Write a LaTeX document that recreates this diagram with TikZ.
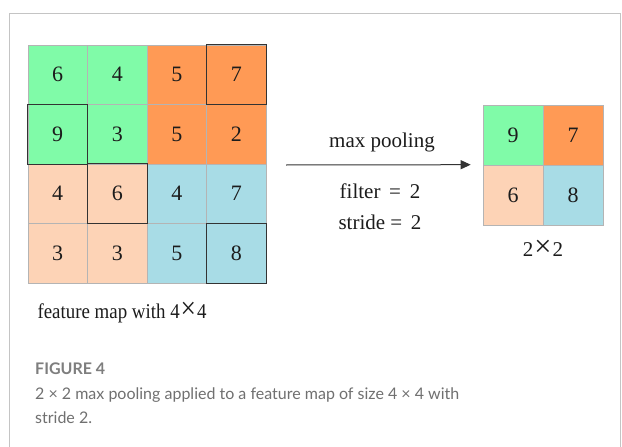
\documentclass[tikz,border=0pt]{standalone}
\usepackage{fontspec}
\setmainfont{Liberation Serif}
\newfontfamily\capfont{Lato}
\usetikzlibrary{arrows.meta}
\definecolor{cgreen}{HTML}{80FBA8}
\definecolor{corange}{HTML}{FF9A55}
\definecolor{cpeach}{HTML}{FDD3B6}
\definecolor{cblue}{HTML}{A8DCE6}
\definecolor{gridgray}{HTML}{B4B4B4}
\definecolor{framegray}{HTML}{C4C4C4}
\definecolor{capgray}{HTML}{707070}
\definecolor{ink}{HTML}{1C1C1C}
\tikzset{
  cell/.style={rectangle, draw=gridgray, line width=0.6pt, minimum size=59.5pt,
    inner sep=0pt, font=\fontsize{22}{24}\selectfont, text=ink},
  ocell/.style={cell, minimum size=60pt},
  hl/.style={draw=black!80, line width=1pt},
  lbl/.style={font=\fontsize{21}{24}\selectfont, text=ink, inner sep=0pt, anchor=base},
  arr/.style={-{Triangle[length=10pt,width=9pt]}, line width=1pt, draw=black!80},
  captext/.style={font=\capfont\fontsize{16}{20}\selectfont, text=capgray, inner sep=0pt, anchor=base west}
}
\newcommand{\bigx}{\kern1pt\raisebox{-0.5pt}{\scalebox{1.45}{×}}\kern1pt}
\begin{document}
\begin{tikzpicture}[x=1pt,y=-1pt]
\useasboundingbox (0,0) rectangle (622,447);
\fill[white] (0,0) rectangle (622,447);
% outer frame
\draw[framegray, line width=1pt] (9.5,450) -- (9.5,13.5) -- (620.5,13.5) -- (620.5,450);

% 4x4 feature map
\foreach \r/\c/\v/\col in {0/0/6/cgreen,0/1/4/cgreen,0/2/5/corange,0/3/7/corange,
                           1/0/9/cgreen,1/1/3/cgreen,1/2/5/corange,1/3/2/corange,
                           2/0/4/cpeach,2/1/6/cpeach,2/2/4/cblue,2/3/7/cblue,
                           3/0/3/cpeach,3/1/3/cpeach,3/2/5/cblue,3/3/8/cblue}
  \node[cell, fill=\col] (m\r\c) at ({28+59.5*\c+29.75},{45+59.5*\r+29.75}) {\v};
% maxima of each window
\foreach \n in {m03,m10,m21,m33}
  \draw[hl] (\n.north west) rectangle (\n.south east);
\node[lbl] (fmlabel) at (122,318) {\scalebox{0.9}[1]{feature map with 4\bigx4}};

% 2x2 pooled map
\node[ocell, fill=cgreen]  (o00) at (513,135) {9};
\node[ocell, fill=corange] (o01) at (573,135) {7};
\node[ocell, fill=cpeach]  (o10) at (513,195) {6};
\node[ocell, fill=cblue]   (o11) at (573,195) {8};
\node[lbl] (olabel) at (543,256) {2\bigx2};

% pooling arrow and its parameters
\coordinate (astart) at (286,165);
\draw[arr] (astart) -- ([xshift=-12pt]o10.north west);
\node[lbl] (mp) at (382,147) {max pooling};
\node[lbl] (flt) at (380,198) {filter\, =\, 2};
\node[lbl] (std) at (380,229) {stride =\, 2};

% caption
\node[captext, font=\capfont\bfseries\fontsize{16}{20}\selectfont, text=capgray!90] (fig) at (35,374) {FIGURE 4};
\node[captext] (cap1) at (35,399) {2 × 2 max pooling applied to a feature map of size 4 × 4 with};
\node[captext] (cap2) at (35,423) {stride 2.};
\end{tikzpicture}
\end{document}
